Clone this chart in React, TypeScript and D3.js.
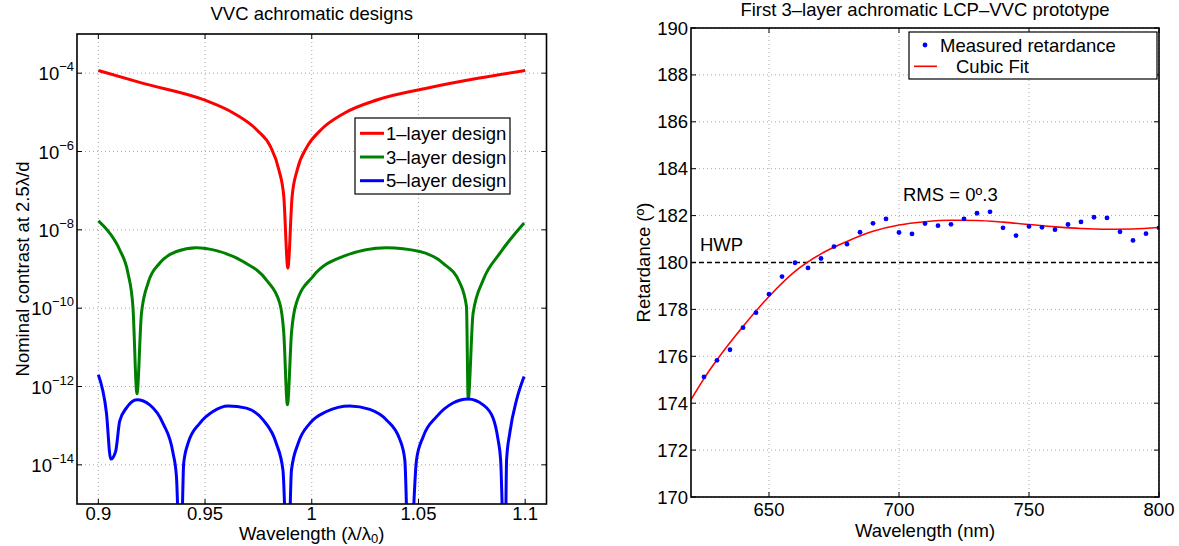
import * as d3 from 'd3'

// left panel: nominal contrast vs normalised wavelength
const oneLayerX = [0.9, 0.921, 0.9493, 0.9634, 0.9744, 0.9806, 0.9846, 0.9869, 0.9888, 0.9908, 0.9932, 0.9979, 1.0041, 1.0152, 1.0308, 1.0544, 1.0779, 1.1]
const oneLayerY = [1.17e-4, 5.5e-5, 2.1e-5, 9.5e-6, 3.5e-6, 1.35e-6, 3.4e-7, 7.1e-8, 1.05e-9, 7.1e-8, 3.4e-7, 1.35e-6, 3.5e-6, 9.5e-6, 2.1e-5, 4.2e-5, 7.4e-5, 1.17e-4]

const threeLayerX = [0.9, 0.9053, 0.91, 0.9139, 0.9162, 0.9181, 0.9202, 0.9233, 0.9287, 0.9366, 0.9459, 0.9553, 0.9678, 0.9788, 0.985, 0.9869, 0.9886, 0.9905, 0.9928, 1.0006, 1.0147, 1.035, 1.0506, 1.0616, 1.0694, 1.0725, 1.0733, 1.0756, 1.0803, 1.0881, 1.0995]
const threeLayerY = [1.7e-8, 8.3e-9, 3.1e-9, 7.8e-10, 1.1e-10, 6.5e-13, 7.4e-11, 4.4e-10, 1.4e-9, 2.8e-9, 3.5e-9, 2.95e-9, 1.55e-9, 5.2e-10, 1.35e-10, 2.3e-11, 3.4e-13, 2.3e-11, 1.35e-10, 6.5e-10, 2.1e-9, 3.5e-9, 2.8e-9, 1.4e-9, 4.4e-10, 1.1e-10, 4.8e-13, 7.4e-11, 5.2e-10, 2.5e-9, 1.5e-8]

const fiveLayerX = [0.9, 0.9038, 0.9058, 0.9081, 0.91, 0.9131, 0.9181, 0.9241, 0.9303, 0.935, 0.9366, 0.9385, 0.94, 0.942, 0.9475, 0.9537, 0.9608, 0.9694, 0.9772, 0.9834, 0.9865, 0.9888, 0.9905, 0.9936, 0.9991, 1.0069, 1.0178, 1.0272, 1.035, 1.0413, 1.0436, 1.0456, 1.0491, 1.0522, 1.0585, 1.0662, 1.0733, 1.0803, 1.085, 1.0873, 1.0885, 1.0905, 1.0913, 1.0928, 1.096, 1.0995]
const fiveLayerY = [2.0e-12, 2.1e-13, 1.4e-14, 2.2e-14, 1.3e-13, 2.8e-13, 4.6e-13, 3.4e-13, 1.15e-13, 2.0e-14, 5.0e-15, 1e-17, 1.1e-14, 3.5e-14, 1.15e-13, 2.3e-13, 3.2e-13, 2.8e-13, 1.4e-13, 3.5e-14, 7.4e-15, 1e-17, 7.4e-15, 3.5e-14, 1.15e-13, 2.3e-13, 3.2e-13, 2.6e-13, 1.4e-13, 4.4e-14, 1.35e-14, 1e-17, 1.35e-14, 5.2e-14, 1.7e-13, 3.8e-13, 4.8e-13, 3.4e-13, 1.55e-13, 4.4e-14, 1.35e-14, 1e-17, 1.35e-14, 6.5e-14, 4.6e-13, 1.8e-12]

const leftXTicks = [0.9, 0.95, 1, 1.05, 1.1]
const leftYTickExp = [-4, -6, -8, -10, -12, -14]
const designNames = ['1\u2013layer design', '3\u2013layer design', '5\u2013layer design']

// right panel: measured retardance of the prototype
const measWl = [625, 630, 635, 640, 645, 650, 655, 660, 665, 670, 675, 680, 685, 690, 695, 700, 705, 710, 715, 720, 725, 730, 735, 740, 745, 750, 755, 760, 765, 770, 775, 780, 785, 790, 795, 800]
const measRet = [175.12, 175.83, 176.28, 177.22, 177.86, 178.65, 179.4, 179.99, 179.77, 180.17, 180.68, 180.78, 181.29, 181.67, 181.86, 181.28, 181.22, 181.66, 181.57, 181.63, 181.86, 182.1, 182.16, 181.48, 181.15, 181.54, 181.5, 181.4, 181.62, 181.73, 181.93, 181.9, 181.31, 180.94, 181.23, 181.48]
const fitWl = [620, 625, 630, 640, 650, 660, 670, 680, 690, 700, 710, 720, 730, 740, 750, 760, 770, 780, 790, 800]
const fitRet = [174.15, 175.05, 175.85, 177.27, 178.55, 179.62, 180.37, 180.9, 181.33, 181.6, 181.74, 181.8, 181.79, 181.72, 181.62, 181.52, 181.45, 181.42, 181.43, 181.49]
const rightXTicks = [650, 700, 750, 800]
const rightYTicks = [170, 172, 174, 176, 178, 180, 182, 184, 186, 188, 190]

const font = '"Liberation Sans", Arial, Helvetica, sans-serif'
const fs = 18.5
const gridStyle = { stroke: '#a8a8a8', strokeWidth: 1, strokeDasharray: '1,3' }

export default function App() {
  // left panel geometry
  const L = { left: 77, right: 546.5, top: 34, bottom: 504 }
  const lx = d3.scaleLinear().domain([0.89, 1.11]).range([L.left, L.right])
  const ly = d3.scaleLog().domain([1e-15, 1e-3]).range([L.bottom, L.top])
  const makePath = (xs: number[], ys: number[]) => {
    const pts = xs.map((x, i) => [lx(x), ly(ys[i])] as [number, number])
    return d3.line().curve(d3.curveMonotoneX)(pts) || ''
  }

  // right panel geometry
  const R = { left: 691, right: 1159, top: 28, bottom: 497 }
  const rx = d3.scaleLinear().domain([620, 800]).range([R.left, R.right])
  const ry = d3.scaleLinear().domain([170, 190]).range([R.bottom, R.top])
  const fitPath =
    d3
      .line<number>()
      .curve(d3.curveMonotoneX)
      .x((_, i) => rx(fitWl[i]))
      .y((d) => ry(d))(fitRet) || ''

  const series = [
    { xs: oneLayerX, ys: oneLayerY, color: '#ff0000' },
    { xs: threeLayerX, ys: threeLayerY, color: '#008000' },
    { xs: fiveLayerX, ys: fiveLayerY, color: '#0000ff' },
  ]

  return (
    <svg
      width={1179}
      height={546}
      style={{ position: 'absolute', left: 0, top: 0, background: '#fff' }}
      fontFamily={font}
      fontSize={fs}
    >
      <defs>
        <clipPath id="lclip">
          <rect x={L.left} y={L.top} width={L.right - L.left} height={L.bottom - L.top} />
        </clipPath>
        <clipPath id="rclip">
          <rect x={R.left} y={R.top} width={R.right - R.left} height={R.bottom - R.top} />
        </clipPath>
      </defs>
      <rect x={0} y={0} width={1179} height={546} fill="#fff" />

      {/* ---------- left panel ---------- */}
      <text x={(L.left + L.right) / 2} y={20} textAnchor="middle">
        VVC achromatic designs
      </text>
      {leftXTicks.map((t) => (
        <line key={'lgx' + t} x1={lx(t)} x2={lx(t)} y1={L.top} y2={L.bottom} style={gridStyle} />
      ))}
      {leftYTickExp.map((e) => (
        <line key={'lgy' + e} x1={L.left} x2={L.right} y1={ly(10 ** e)} y2={ly(10 ** e)} style={gridStyle} />
      ))}
      <g clipPath="url(#lclip)">
        {series.map((s, i) => (
          <path key={i} d={makePath(s.xs, s.ys)} fill="none" stroke={s.color} strokeWidth={3} strokeLinejoin="round" />
        ))}
      </g>
      <rect x={L.left} y={L.top} width={L.right - L.left} height={L.bottom - L.top} fill="none" stroke="#000" strokeWidth={1.6} />
      {leftXTicks.map((t) => (
        <g key={'ltx' + t}>
          <line x1={lx(t)} x2={lx(t)} y1={L.bottom} y2={L.bottom - 5} stroke="#000" />
          <line x1={lx(t)} x2={lx(t)} y1={L.top} y2={L.top + 5} stroke="#000" />
          <text x={lx(t)} y={L.bottom + 16} textAnchor="middle">
            {String(t)}
          </text>
        </g>
      ))}
      {leftYTickExp.map((e) => (
        <g key={'lty' + e}>
          <line x1={L.left} x2={L.left + 5} y1={ly(10 ** e)} y2={ly(10 ** e)} stroke="#000" />
          <line x1={L.right} x2={L.right - 5} y1={ly(10 ** e)} y2={ly(10 ** e)} stroke="#000" />
          <text x={L.left - 3} y={ly(10 ** e) + 7} textAnchor="end">
            10
            <tspan dy={-9} fontSize={13}>
              {'\u2212' + Math.abs(e)}
            </tspan>
          </text>
        </g>
      ))}
      <text x={(L.left + L.right) / 2} y={540} textAnchor="middle">
        Wavelength (λ/λ
        <tspan dy={3} fontSize={13}>
          0
        </tspan>
        <tspan dy={-3}>)</tspan>
      </text>
      <text transform={`translate(29,${(L.top + L.bottom) / 2}) rotate(-90)`} textAnchor="middle">
        Nominal contrast at 2.5λ/d
      </text>
      {/* left legend */}
      <rect x={355} y={118} width={155} height={76} fill="#fff" stroke="#000" strokeWidth={1.2} />
      {series.map((s, i) => (
        <g key={'lg' + i}>
          <line x1={360} x2={384} y1={133.3 + i * 23.7} y2={133.3 + i * 23.7} stroke={s.color} strokeWidth={3} />
          <text x={386} y={133.3 + i * 23.7 + 6.5}>
            {designNames[i]}
          </text>
        </g>
      ))}

      {/* ---------- right panel ---------- */}
      <text x={(R.left + R.right) / 2} y={15.5} textAnchor="middle">
        First 3–layer achromatic LCP–VVC prototype
      </text>
      {rightXTicks.map((t) => (
        <line key={'rgx' + t} x1={rx(t)} x2={rx(t)} y1={R.top} y2={R.bottom} style={gridStyle} />
      ))}
      {rightYTicks.map((t) => (
        <line key={'rgy' + t} x1={R.left} x2={R.right} y1={ry(t)} y2={ry(t)} style={gridStyle} />
      ))}
      <line x1={R.left} x2={R.right} y1={ry(180)} y2={ry(180)} stroke="#000" strokeWidth={1.3} strokeDasharray="5,3" />
      <g clipPath="url(#rclip)">
        <path d={fitPath} fill="none" stroke="#ff0000" strokeWidth={1.6} />
        {measWl.map((w, i) => (
          <circle key={'m' + w} cx={rx(w)} cy={ry(measRet[i])} r={2.4} fill="#0000ff" />
        ))}
      </g>
      <rect x={R.left} y={R.top} width={R.right - R.left} height={R.bottom - R.top} fill="none" stroke="#000" strokeWidth={1.6} />
      {rightXTicks.map((t) => (
        <g key={'rtx' + t}>
          <line x1={rx(t)} x2={rx(t)} y1={R.bottom} y2={R.bottom - 5} stroke="#000" />
          <line x1={rx(t)} x2={rx(t)} y1={R.top} y2={R.top + 5} stroke="#000" />
          <text x={rx(t)} y={R.bottom + 19} textAnchor="middle">
            {String(t)}
          </text>
        </g>
      ))}
      {rightYTicks.map((t) => (
        <g key={'rty' + t}>
          <line x1={R.left} x2={R.left + 5} y1={ry(t)} y2={ry(t)} stroke="#000" />
          <line x1={R.right} x2={R.right - 5} y1={ry(t)} y2={ry(t)} stroke="#000" />
          <text x={R.left - 3} y={ry(t) + 6.5} textAnchor="end">
            {String(t)}
          </text>
        </g>
      ))}
      <text x={(R.left + R.right) / 2} y={537} textAnchor="middle">
        Wavelength (nm)
      </text>
      <text transform={`translate(650,${(R.top + R.bottom) / 2}) rotate(-90)`} textAnchor="middle">
        Retardance (º)
      </text>
      <text x={700} y={251}>
        HWP
      </text>
      <text x={903} y={201}>
        RMS = 0º.3
      </text>
      {/* right legend */}
      <rect x={909} y={32} width={248} height={47} fill="#fff" stroke="#000" strokeWidth={1.2} />
      <circle cx={925} cy={45} r={2.4} fill="#0000ff" />
      <text x={940} y={51.5}>
        Measured retardance
      </text>
      <line x1={914} x2={937} y1={66.3} y2={66.3} stroke="#ff0000" strokeWidth={1.6} />
      <text x={956} y={72.5}>
        Cubic Fit
      </text>
    </svg>
  )
}
